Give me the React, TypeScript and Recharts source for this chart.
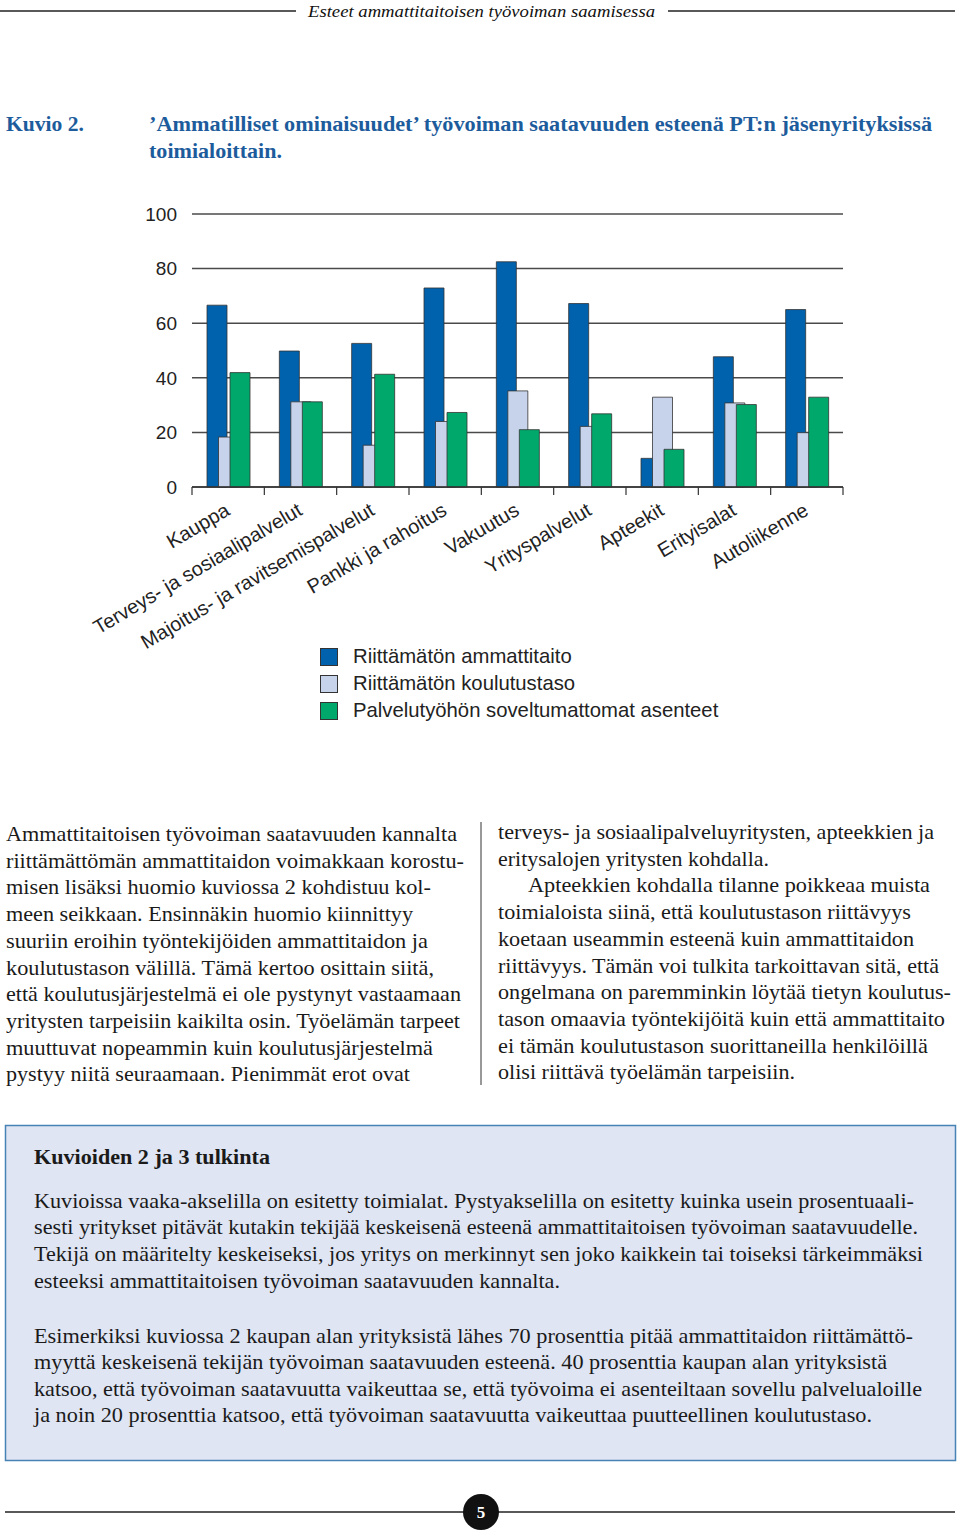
import React from 'react';
import { BarChart, Bar, XAxis, YAxis, CartesianGrid, Legend } from 'recharts';

// ---- chart data ----
const categories = [
  'Kauppa',
  'Terveys- ja sosiaalipalvelut',
  'Majoitus- ja ravitsemispalvelut',
  'Pankki ja rahoitus',
  'Vakuutus',
  'Yrityspalvelut',
  'Apteekit',
  'Erityisalat',
  'Autoliikenne',
];
const ammattitaito = [66.6, 49.8, 52.6, 72.9, 82.5, 67.2, 10.5, 47.7, 65.0];
const koulutustaso = [18.3, 31.2, 15.3, 24.0, 35.2, 22.2, 32.9, 30.8, 19.9];
const asenteet = [41.9, 31.2, 41.3, 27.3, 21.0, 26.8, 13.8, 30.2, 32.9];
const seriesNames = [
  'Riittämätön ammattitaito',
  'Riittämätön koulutustaso',
  'Palvelutyöhön soveltumattomat asenteet',
];
const yTicks = [0, 20, 40, 60, 80, 100];

const data = categories.map((name, i) => ({
  name,
  a: ammattitaito[i],
  k: koulutustaso[i],
  p: asenteet[i],
}));

// ---- page text ----
const headerText = 'Esteet ammattitaitoisen työvoiman saamisessa';
const figLabel = 'Kuvio 2.';
const titleLines = [
  '’Ammatilliset ominaisuudet’ työvoiman saatavuuden esteenä PT:n jäsenyrityksissä',
  'toimialoittain.',
];
const leftLines: [string, number][] = [
  ['Ammattitaitoisen työvoiman saatavuuden kannalta', 451],
  ['riittämättömän ammattitaidon voimakkaan korostu-', 458],
  ['misen lisäksi huomio kuviossa 2 kohdistuu kol-', 425],
  ['meen seikkaan. Ensinnäkin huomio kiinnittyy', 407],
  ['suuriin eroihin työntekijöiden ammattitaidon ja', 422],
  ['koulutustason välillä. Tämä kertoo osittain siitä,', 428],
  ['että koulutusjärjestelmä ei ole pystynyt vastaamaan', 455],
  ['yritysten tarpeisiin kaikilta osin. Työelämän tarpeet', 454],
  ['muuttuvat nopeammin kuin koulutusjärjestelmä', 427],
  ['pystyy niitä seuraamaan. Pienimmät erot ovat', 404],
];
const rightLines: [string, number, number][] = [
  ['terveys- ja sosiaalipalveluyritysten, apteekkien ja', 498, 436],
  ['eritysalojen yritysten kohdalla.', 498, 271],
  ['Apteekkien kohdalla tilanne poikkeaa muista', 528, 402],
  ['toimialoista siinä, että koulutustason riittävyys', 498, 413],
  ['koetaan useammin esteenä kuin ammattitaidon', 498, 416],
  ['riittävyys. Tämän voi tulkita tarkoittavan sitä, että', 498, 441],
  ['ongelmana on paremminkin löytää tietyn koulutus-', 498, 453],
  ['tason omaavia työntekijöitä kuin että ammattitaito', 498, 447],
  ['ei tämän koulutustason suorittaneilla henkilöillä', 498, 430],
  ['olisi riittävä työelämän tarpeisiin.', 498, 297],
];
const boxTitle = 'Kuvioiden 2 ja 3 tulkinta';
const boxLines: [string, number, number][] = [
  ['Kuvioissa vaaka-akselilla on esitetty toimialat. Pystyakselilla on esitetty kuinka usein prosentuaali-', 1208, 880],
  ['sesti yritykset pitävät kutakin tekijää keskeisenä esteenä ammattitaitoisen työvoiman saatavuudelle.', 1234, 884],
  ['Tekijä on määritelty keskeiseksi, jos yritys on merkinnyt sen joko kaikkein tai toiseksi tärkeimmäksi', 1261, 889],
  ['esteeksi ammattitaitoisen työvoiman saatavuuden kannalta.', 1288, 526],
  ['Esimerkiksi kuviossa 2 kaupan alan yrityksistä lähes 70 prosenttia pitää ammattitaidon riittämättö-', 1343, 879],
  ['myyttä keskeisenä tekijän työvoiman saatavuuden esteenä. 40 prosenttia kaupan alan yrityksistä', 1369, 853],
  ['katsoo, että työvoiman saatavuutta vaikeuttaa se, että työvoima ei asenteiltaan sovellu palvelualoille', 1396, 888],
  ['ja noin 20 prosenttia katsoo, että työvoiman saatavuutta vaikeuttaa puutteellinen koulutustaso.', 1422, 838],
];

const SANS = "'Liberation Sans', Arial, sans-serif";
const SERIF = "'Liberation Serif', 'Times New Roman', serif";
const COLORS = ['#0061ad', '#c6d3ea', '#00a86b'];

function CatTick(props: any) {
  const { x, y, payload, index, visibleTicksCount } = props;
  const half = payload && typeof payload.offset === 'number' ? payload.offset : 0;
  const isLast = visibleTicksCount != null ? index === visibleTicksCount - 1 : index === categories.length - 1;
  return (
    <g>
      <line x1={x - half} y1={y} x2={x - half} y2={y + 8} stroke="#333" strokeWidth={1.2} />
      {isLast ? <line x1={x + half} y1={y} x2={x + half} y2={y + 8} stroke="#333" strokeWidth={1.2} /> : null}
      <g transform={`translate(${x + 3},${y + 27})`}>
        <text x={0} y={0} textAnchor="end" transform="rotate(-30.5)" fontSize={20} fontFamily={SANS} fill="#222">
          {payload.value}
        </text>
      </g>
    </g>
  );
}

function LegendContent(props: any) {
  const { payload } = props;
  const items = [...(payload || [])].sort(
    (p: any, q: any) => seriesNames.indexOf(p.value) - seriesNames.indexOf(q.value)
  );
  return (
    <div>
      {items.map((e: any, i: number) => (
        <div key={i} style={{ display: 'flex', alignItems: 'center', height: 27 }}>
          <span
            style={{
              display: 'inline-block',
              width: 16,
              height: 16,
              background: e.color,
              border: '1px solid #333',
              marginRight: 15,
            }}
          />
          <span style={{ fontSize: 20.3, fontFamily: SANS, color: '#222', whiteSpace: 'nowrap' }}>{e.value}</span>
        </div>
      ))}
    </div>
  );
}

export default function App() {
  const bodySize = 21;
  return (
    <div style={{ position: 'absolute', left: 0, top: 0, width: 960, height: 1533, background: '#fff', overflow: 'hidden' }}>
      <div style={{ position: 'absolute', left: 0, top: 0 }}>
        <BarChart
          width={960}
          height={760}
          data={data}
          margin={{ top: 214, right: 117, bottom: 243, left: 132 }}
          barGap={-8.5}
        >
          <CartesianGrid vertical={false} stroke="#4a4a4a" strokeWidth={1.5} />
          <XAxis
            dataKey="name"
            height={30}
            axisLine={{ stroke: '#333', strokeWidth: 1.5 }}
            tickLine={false}
            tickSize={0}
            tickMargin={0}
            interval={0}
            tick={<CatTick />}
          />
          <YAxis
            domain={[0, 100]}
            ticks={yTicks}
            axisLine={false}
            tickLine={false}
            tickSize={0}
            tickMargin={15}
            width={60}
            interval={0}
            tick={{ fontSize: 19, fill: '#222', fontFamily: SANS }}
          />
          <Legend
            layout="vertical"
            align="center"
            verticalAlign="middle"
            content={<LegendContent />}
            wrapperStyle={{ left: 320, top: 643, width: 'auto' }}
          />
          <Bar dataKey="a" name={seriesNames[0]} fill={COLORS[0]} stroke="#333" strokeWidth={0.8} barSize={20} isAnimationActive={false} />
          <Bar dataKey="k" name={seriesNames[1]} fill={COLORS[1]} stroke="#333" strokeWidth={0.8} barSize={20} isAnimationActive={false} />
          <Bar dataKey="p" name={seriesNames[2]} fill={COLORS[2]} stroke="#333" strokeWidth={0.8} barSize={20} isAnimationActive={false} />
        </BarChart>
      </div>
      <svg width={960} height={1533} style={{ position: 'absolute', left: 0, top: 0, pointerEvents: 'none' }}>
        {/* header */}
        <line x1={0} y1={11} x2={296} y2={11} stroke="#222" strokeWidth={1.5} />
        <line x1={668} y1={11} x2={955} y2={11} stroke="#222" strokeWidth={1.5} />
        <text x={308} y={17} fontFamily={SERIF} fontStyle="italic" fontSize={17} fill="#111" textLength={347} lengthAdjust="spacingAndGlyphs">
          {headerText}
        </text>
        {/* title */}
        <text x={6} y={131} fontFamily={SERIF} fontWeight="bold" fontSize={21} fill="#1d5c9c" textLength={78} lengthAdjust="spacingAndGlyphs">
          {figLabel}
        </text>
        <text x={149} y={131} fontFamily={SERIF} fontWeight="bold" fontSize={21} fill="#1d5c9c" textLength={783} lengthAdjust="spacingAndGlyphs">
          {titleLines[0]}
        </text>
        <text x={149} y={158} fontFamily={SERIF} fontWeight="bold" fontSize={21} fill="#1d5c9c" textLength={133} lengthAdjust="spacingAndGlyphs">
          {titleLines[1]}
        </text>
        {/* body columns */}
        {leftLines.map(([t, w], i) => (
          <text key={'l' + i} x={6} y={841 + i * 26.7} fontFamily={SERIF} fontSize={bodySize} fill="#1a1a1a" textLength={w} lengthAdjust="spacingAndGlyphs">
            {t}
          </text>
        ))}
        <line x1={481} y1={822} x2={481} y2={1085} stroke="#333" strokeWidth={1} />
        {rightLines.map(([t, x, w], i) => (
          <text key={'r' + i} x={x} y={839 + i * 26.7} fontFamily={SERIF} fontSize={bodySize} fill="#1a1a1a" textLength={w} lengthAdjust="spacingAndGlyphs">
            {t}
          </text>
        ))}
        {/* info box */}
        <rect x={5.5} y={1125.5} width={950} height={335} fill="#dfe5f3" stroke="#4682b4" strokeWidth={1.5} />
        <text x={34} y={1164} fontFamily={SERIF} fontWeight="bold" fontSize={bodySize} fill="#1a1a1a" textLength={236} lengthAdjust="spacingAndGlyphs">
          {boxTitle}
        </text>
        {boxLines.map(([t, y, w], i) => (
          <text key={'b' + i} x={34} y={y} fontFamily={SERIF} fontSize={bodySize} fill="#1a1a1a" textLength={w} lengthAdjust="spacingAndGlyphs">
            {t}
          </text>
        ))}
        {/* footer */}
        <line x1={5} y1={1512} x2={955} y2={1512} stroke="#222" strokeWidth={1.5} />
        <circle cx={481} cy={1512} r={18} fill="#111" />
        <text x={481} y={1518} textAnchor="middle" fontFamily={SERIF} fontWeight="bold" fontSize={17} fill="#fff">
          5
        </text>
      </svg>
    </div>
  );
}
